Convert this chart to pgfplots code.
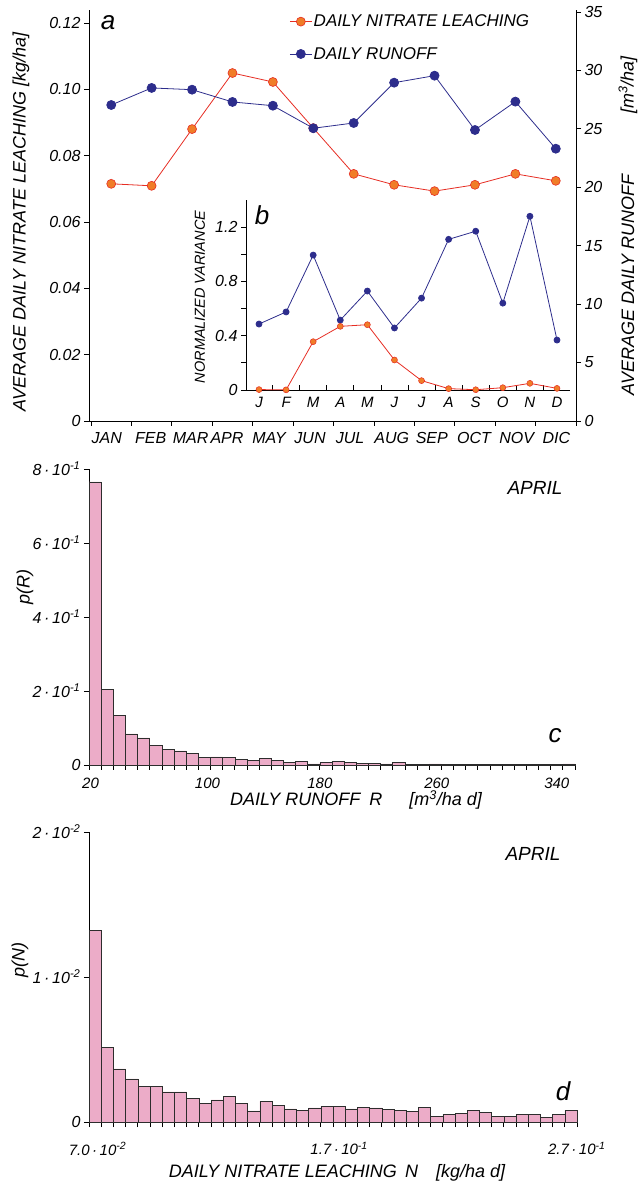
\documentclass[border=0pt]{standalone}
\usepackage{fontspec}
\setmainfont{Liberation Sans}
\usepackage{pgfplots}
\pgfplotsset{compat=1.18}
\definecolor{nitline}{RGB}{230,45,35}
\definecolor{nitfill}{RGB}{240,125,40}
\definecolor{runoff}{RGB}{45,45,140}
\definecolor{barpink}{RGB}{236,172,200}
\definecolor{baredge}{RGB}{45,45,45}
\newcommand{\fs}[1]{\fontsize{#1}{#1}\selectfont\itshape}
\pgfplotsset{
  base/.style={scale only axis, clip=false,
    scaled x ticks=false, scaled y ticks=false,
    axis line style={black, line width=0.8pt},
    tick style={black, line width=0.8pt},
    tick align=outside, major tick length=5pt,
    tick label style={font=\fs{16}},
  },
}
\begin{document}
\begin{tikzpicture}[x=1pt,y=1pt]
\path[use as bounding box] (0,0) rectangle (639,1186);

% ---------------- panel a : left axis (nitrate) ----------------
\begin{axis}[base, at={(89pt,765pt)}, anchor=south west, width=487pt, height=411pt,
  xmin=0.45, xmax=12.5, ymin=0, ymax=0.1239,
  axis x line*=bottom, axis y line*=left,
  xtick={0.5,1.5,...,12.5}, xticklabels={},
  extra x ticks={0.888,1.977,2.966,3.865,4.904,5.919,6.909,7.941,8.931,9.976,11.032,12.016},
  extra x tick labels={JAN,FEB,MAR,APR,MAY,JUN,JUL,AUG,SEP,OCT,NOV,DIC},
  extra x tick style={major tick length=0pt, tick label style={font=\fs{16}, yshift=-8pt}},
  ytick={0,0.02,0.04,0.06,0.08,0.10,0.12},
  yticklabels={0,0.02,0.04,0.06,0.08,0.10,0.12},
  legend image code/.code={\draw[mark repeat=2,mark phase=2,#1] plot coordinates {(0pt,0pt) (11pt,0pt) (22pt,0pt)};},
  legend style={at={(0.405,0.997)}, anchor=north west, draw=none, fill=none,
    font=\fs{17}, row sep=16pt, nodes={inner sep=1.5pt}},
  legend cell align=left,
]
\addplot[color=nitline, line width=0.8pt, mark=*, mark size=4.5pt,
  mark options={fill=nitfill, draw=nitline, line width=0.6pt}] coordinates {
  (1,0.0715) (2,0.0709) (3,0.0880) (4,0.1049) (5,0.1022) (6,0.0883)
  (7,0.0745) (8,0.0712) (9,0.0693) (10,0.0712) (11,0.0745) (12,0.0724)};
\addlegendentry{DAILY NITRATE LEACHING}
\addlegendimage{color=runoff, line width=0.8pt, mark=*, mark size=4.5pt, mark options={fill=runoff}}
\addlegendentry{DAILY RUNOFF}
\end{axis}

% ---------------- panel a : right axis (runoff) ----------------
\begin{axis}[base, at={(89pt,765pt)}, anchor=south west, width=487pt, height=411pt,
  xmin=0.45, xmax=12.5, ymin=0, ymax=35.17,
  axis x line=none, axis y line*=right,
  ytick={0,5,10,15,20,25,30,35}, yticklabels={0,5,10,15,20,25,30,35},
]
\addplot[color=runoff, line width=0.8pt, mark=*, mark size=4.5pt, mark options={fill=runoff}] coordinates {
  (1,27.04) (2,28.5) (3,28.35) (4,27.3) (5,26.98) (6,25.05)
  (7,25.5) (8,28.95) (9,29.55) (10,24.9) (11,27.33) (12,23.3)};
\end{axis}

% ---------------- panel b : inset ----------------
\begin{axis}[base, at={(246pt,796pt)}, anchor=south west, width=324pt, height=190pt,
  xmin=0.52, xmax=12.48, ymin=0, ymax=1.4,
  axis x line*=bottom, axis y line*=left,
  xtick={1.5,2.5,...,11.5}, xticklabels={},
  x tick style={yshift=5pt},
  extra x ticks={1,...,12}, extra x tick labels={J,F,M,A,M,J,J,A,S,O,N,D},
  extra x tick style={major tick length=0pt, tick label style={font=\fs{15}, yshift=-4pt}},
  ytick={0,0.4,0.8,1.2}, yticklabels={0,0.4,0.8,1.2}, minor ytick={0.2,0.6,1.0},
  minor tick length=5pt,
]
\addplot[color=runoff, line width=0.8pt, mark=*, mark size=3pt, mark options={fill=runoff}] coordinates {
  (1,0.486) (2,0.575) (3,0.994) (4,0.515) (5,0.729) (6,0.457)
  (7,0.677) (8,1.11) (9,1.17) (10,0.64) (11,1.28) (12,0.368)};
\addplot[color=nitline, line width=0.8pt, mark=*, mark size=3pt,
  mark options={fill=nitfill, draw=nitline, line width=0.5pt}] coordinates {
  (1,0.003) (2,0.001) (3,0.356) (4,0.469) (5,0.481) (6,0.221)
  (7,0.069) (8,0.010) (9,0.002) (10,0.017) (11,0.049) (12,0.012)};
\end{axis}

% ---------------- panel c ----------------
\begin{axis}[base, at={(89pt,421pt)}, anchor=south west, width=486pt, height=296pt,
  xmin=20, xmax=340, ymin=0, ymax=0.8,
  axis x line*=bottom, axis y line*=left,
  xtick={20,28,...,340}, xticklabels={},
  extra x ticks={21,98,172,249,328}, extra x tick labels={20,100,180,260,340},
  extra x tick style={major tick length=0pt, tick label style={font=\fs{15}, yshift=-9pt}},
  ytick={0,0.2,0.4,0.6,0.8},
  yticklabels={0,2\,·\,10\textsuperscript{-1},4\,·\,10\textsuperscript{-1},6\,·\,10\textsuperscript{-1},8\,·\,10\textsuperscript{-1}},
]
\addplot[ybar interval, mark=none, fill=barpink, draw=baredge, line width=0.6pt] coordinates {
  (20,0.765) (28,0.205) (36,0.135) (44,0.084) (52,0.073) (60,0.054) (68,0.043) (76,0.038)
  (84,0.032) (92,0.021) (100,0.022) (108,0.020) (116,0.015) (124,0.013) (132,0.017) (140,0.012)
  (148,0.007) (156,0.009) (164,0.003) (172,0.006) (180,0.009) (188,0.006) (196,0.0045) (204,0.0036)
  (212,0.003) (220,0.006) (228,0.002) (236,0.002) (244,0.0027) (252,0.0018) (260,0.0015) (268,0.0015)
  (276,0.0018) (284,0.0018) (292,0.0015) (300,0.0018) (308,0.0015) (316,0.0015) (324,0.001) (332,0.0027)
  (340,0.0027)};
\end{axis}

% ---------------- panel d ----------------
\begin{axis}[base, at={(89pt,64pt)}, anchor=south west, width=488pt, height=290pt,
  xmin=0.07, xmax=0.27, ymin=0, ymax=0.02,
  axis x line*=bottom, axis y line*=left,
  xtick={0.07,0.075,0.08,0.085,0.09,0.095,0.10,0.105,0.11,0.115,0.12,0.125,0.13,0.135,0.14,0.145,
    0.15,0.155,0.16,0.165,0.17,0.175,0.18,0.185,0.19,0.195,0.20,0.205,0.21,0.215,0.22,0.225,0.23,
    0.235,0.24,0.245,0.25,0.255,0.26,0.265,0.27}, xticklabels={},
  extra x ticks={0.0735,0.1725,0.2699},
  extra x tick labels={7.0\,·\,10\textsuperscript{-2},1.7\,·\,10\textsuperscript{-1},2.7\,·\,10\textsuperscript{-1}},
  extra x tick style={major tick length=0pt, tick label style={font=\fs{15}, yshift=-17pt}},
  ytick={0,0.01,0.02},
  yticklabels={0,1\,·\,10\textsuperscript{-2},2\,·\,10\textsuperscript{-2}},
]
\addplot[ybar interval, mark=none, fill=barpink, draw=baredge, line width=0.6pt] coordinates {
  (0.070,0.01322) (0.075,0.00517) (0.080,0.00366) (0.085,0.00297) (0.090,0.00248) (0.095,0.00248)
  (0.100,0.00207) (0.105,0.00207) (0.110,0.00163) (0.115,0.00126) (0.120,0.00152) (0.125,0.00175)
  (0.130,0.00131) (0.135,0.00076) (0.140,0.00143) (0.145,0.00113) (0.150,0.00090) (0.155,0.00080)
  (0.160,0.00097) (0.165,0.00108) (0.170,0.00108) (0.175,0.00090) (0.180,0.00099) (0.185,0.00097)
  (0.190,0.00085) (0.195,0.00080) (0.200,0.00074) (0.205,0.00099) (0.210,0.00041) (0.215,0.00053)
  (0.220,0.00057) (0.225,0.00078) (0.230,0.00067) (0.235,0.00039) (0.240,0.00039) (0.245,0.00055)
  (0.250,0.00055) (0.255,0.00032) (0.260,0.00055) (0.265,0.00078) (0.270,0.00078)};
\end{axis}

% ---------------- text ----------------
\node[rotate=90, font=\fs{18}] at (21,964) {AVERAGE DAILY NITRATE LEACHING [kg/ha]};
\node[rotate=90, font=\fs{18}] at (628,1101) {[m\textsuperscript{3}/ha]};
\node[rotate=90, font=\fs{18}] at (628,901) {AVERAGE DAILY RUNOFF};
\node[font=\fs{26}] at (108,1163) {a};
\node[font=\fs{26}] at (262,971) {b};
\node[rotate=90, font=\fs{14.5}] at (200,889) {NORMALIZED VARIANCE};

\node[rotate=90, font=\fs{18}] at (25,599) {p(R)};
\node[font=\fs{19}] at (535,698) {APRIL};
\node[font=\fs{26}] at (555,450) {c};
\node[font=\fs{18}] at (356,386) {DAILY RUNOFF\hspace{0.5em}R\hspace{1.5em}[m\textsuperscript{3}/ha d]};

\node[rotate=90, font=\fs{18}] at (20,226) {p(N)};
\node[font=\fs{19}] at (533,332) {APRIL};
\node[font=\fs{26}] at (563,95) {d};
\node[font=\fs{18}] at (337,13) {DAILY NITRATE LEACHING\hspace{0.45em}N\hspace{1em}[kg/ha d]};
\end{tikzpicture}
\end{document}
